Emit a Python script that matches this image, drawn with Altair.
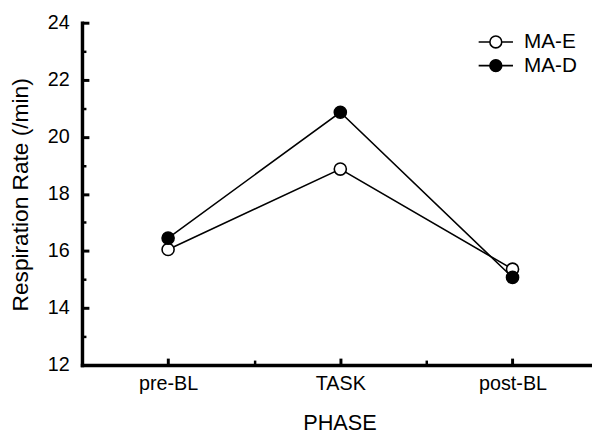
import altair as alt
import pandas as pd

phases = ["pre-BL", "TASK", "post-BL"]
series = ["MA-E", "MA-D"]
ma_e = [16.05, 18.87, 15.36]
ma_d = [16.45, 20.86, 15.07]
y_major = [12, 14, 16, 18, 20, 22, 24]
y_minor = [13, 15, 17, 19, 21, 23]
x_major = [0, 1, 2]
x_minor = [0.5, 1.5]

rows = []
for name, vals in zip(series, [ma_e, ma_d]):
    for i, (p, v) in enumerate(zip(phases, vals)):
        rows.append({"idx": i, "phase": p, "group": name, "value": v})
df = pd.DataFrame(rows)

FONT = "Liberation Sans"
label_expr = "[" + ",".join("'%s'" % p for p in phases) + "][datum.value]"

xscale = alt.Scale(domain=[-0.5, 2.45], nice=False, zero=False)
yscale = alt.Scale(domain=[12, 24], nice=False, zero=False)

x_main = alt.X(
    "idx:Q", scale=xscale,
    axis=alt.Axis(
        values=x_major, labelExpr=label_expr, orient="bottom",
        tickSize=alt.ExprRef("-7"), tickWidth=3, tickColor="black",
        domainWidth=3.5, domainColor="black", domainCap="square",
        labelFont=FONT, labelColor="black", labelFontSize=20, labelPadding=16,
        labelFlush=False, grid=False,
        title="PHASE", titleFont=FONT, titleColor="black", titleFontWeight="normal",
        titleFontSize=22, titleX=261, titleY=58, titleBaseline="middle",
    ),
)
y_main = alt.Y(
    "value:Q", scale=yscale,
    axis=alt.Axis(
        values=y_major, orient="left",
        tickSize=alt.ExprRef("-7"), tickWidth=3, tickColor="black",
        domainWidth=3.5, domainColor="black", domainCap="square",
        labelFont=FONT, labelColor="black", labelFontSize=20, labelPadding=20,
        labelFlush=False, grid=False,
        title="Respiration Rate (/min)", titleFont=FONT, titleColor="black",
        titleFontWeight="normal", titleFontSize=23,
        titleX=-62, titleY=174, titleBaseline="middle",
    ),
)
x_min = alt.X(
    "idx:Q", scale=xscale,
    axis=alt.Axis(
        values=x_minor, labels=False, orient="bottom", domain=False, grid=False,
        tickSize=alt.ExprRef("-5"), tickWidth=2.5, tickColor="black", title="",
    ),
)
y_min = alt.Y(
    "value:Q", scale=yscale,
    axis=alt.Axis(
        values=y_minor, labels=False, orient="left", domain=False, grid=False,
        tickSize=alt.ExprRef("-4"), tickWidth=2.5, tickColor="black", title="",
    ),
)

sym = ("M-2.9,0L-1,0M1,0L2.9,0"
       "M-1,0A1,1,0,1,0,1,0A1,1,0,1,0,-1,0Z")

lines = alt.Chart(df).mark_line(color="black", strokeWidth=1.6).encode(
    x=x_main, y=y_main, detail="group:N"
)
points = alt.Chart(df).mark_circle(
    size=150, stroke="black", strokeWidth=1.6, opacity=1
).encode(
    x=x_min, y=y_min,
    fill=alt.Fill(
        "group:N",
        scale=alt.Scale(domain=series, range=["white", "black"]),
        legend=alt.Legend(
            title=None, orient="none", legendX=409, legendY=9,
            symbolType=sym, symbolSize=144, symbolStrokeColor="black",
            symbolStrokeWidth=1.6, symbolOpacity=1,
            labelFont=FONT, labelFontSize=21, labelColor="black",
            labelOffset=18, rowPadding=2,
        ),
    ),
)

chart = alt.layer(lines, points).resolve_axis(
    x="independent", y="independent"
).properties(
    width=515, height=347,
    autosize=alt.AutoSizeParams(type="none"),
    padding={"left": 75, "top": 12, "right": 2, "bottom": 67},
).configure_view(strokeWidth=0)

chart.save("out.html", embed_options={"renderer": "svg", "actions": False})
